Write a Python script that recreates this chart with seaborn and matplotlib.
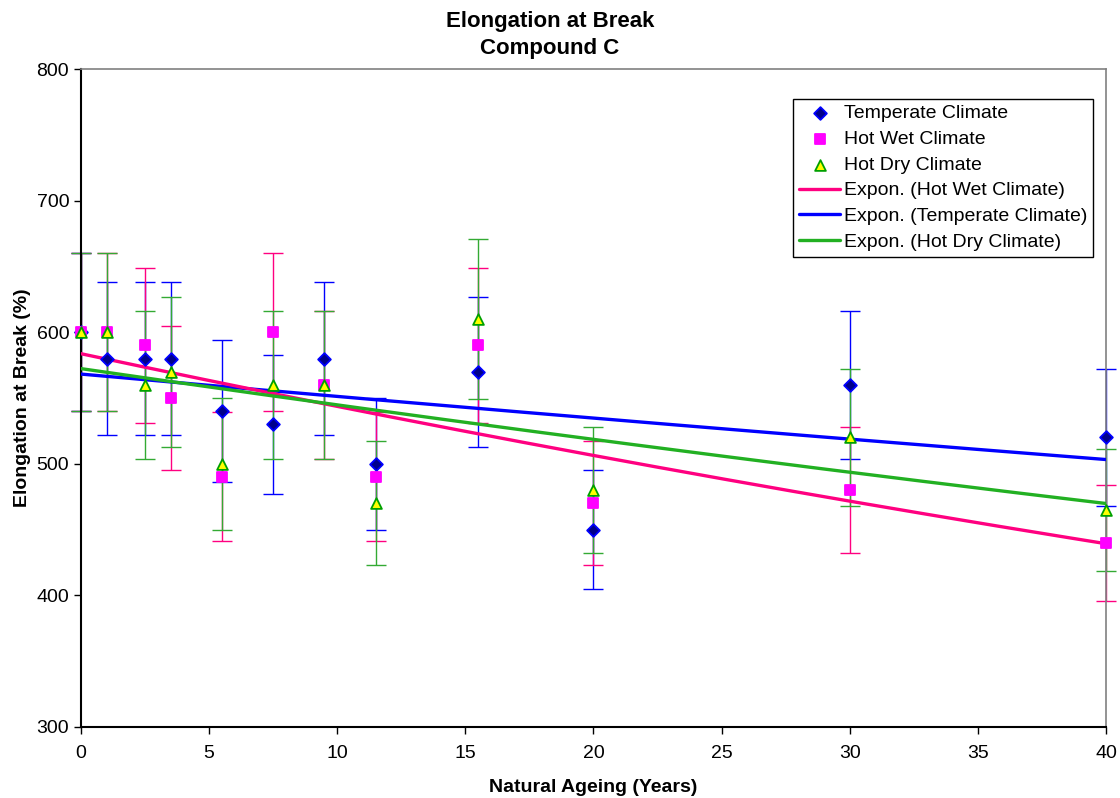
import numpy as np
import pandas as pd
import seaborn as sns
import matplotlib.pyplot as plt

# Natural ageing times (years) and elongation at break (%) per climate
years = [0, 1, 2.5, 3.5, 5.5, 7.5, 9.5, 11.5, 15.5, 20, 30, 40]
temperate = [600, 580, 580, 580, 540, 530, 580, 500, 570, 450, 560, 520]
hot_wet = [600, 600, 590, 550, 490, 600, 560, 490, 590, 470, 480, 440]
hot_dry = [600, 600, 560, 570, 500, 560, 560, 470, 610, 480, 520, 465]
error_frac = 0.10  # error bars are +/-10% of each value

sns.set_theme(style="white")
plt.rcParams['font.family'] = ['Liberation Sans', 'DejaVu Sans']
plt.rcParams['text.color'] = 'black'
plt.rcParams['axes.labelcolor'] = 'black'
plt.rcParams['xtick.color'] = 'black'
plt.rcParams['ytick.color'] = 'black'

fig = plt.figure(figsize=(11.2, 7.98), dpi=100)
ax = fig.add_axes([0.0723, 0.089, 0.9152, 0.8245])

series = [
    # name, values, marker, fill, edge, error colour, trend colour
    ("Temperate Climate", temperate, "D", "#00008B", "#0000FF", "#0000FF", "#0000FF"),
    ("Hot Wet Climate", hot_wet, "s", "#FF00FF", "#FF00FF", "#FF0080", "#FF0080"),
    ("Hot Dry Climate", hot_dry, "^", "#FFFF00", "#00A000", "#33AA33", "#22B022"),
]

x = np.array(years, dtype=float)

# error bars
for name, vals, mk, fc, ec, errc, trc in series:
    v = np.array(vals, dtype=float)
    eb = ax.errorbar(x, v, yerr=v * error_frac, fmt="none", ecolor=errc,
                     elinewidth=1.0, capsize=7, capthick=1.0, zorder=2)
    for art in eb.lines[1] + eb.lines[2]:
        art.set_clip_on(False)

# exponential trend lines (log-linear least squares, like Excel)
xs = np.linspace(0, 40, 200)
for name, vals, mk, fc, ec, errc, trc in series:
    b, ln_a = np.polyfit(x, np.log(vals), 1)
    trend = pd.DataFrame({"x": xs, "y": np.exp(ln_a) * np.exp(b * xs)})
    sns.lineplot(data=trend, x="x", y="y", color=trc, linewidth=2.4,
                 ax=ax, zorder=3, label=f"Expon. ({name})")

# markers
sizes = {"D": 42, "s": 60, "^": 60}
for name, vals, mk, fc, ec, errc, trc in series:
    df = pd.DataFrame({"x": x, "y": vals})
    sns.scatterplot(data=df, x="x", y="y", marker=mk, s=sizes[mk],
                    color=fc, edgecolor=ec, linewidth=1.3, ax=ax,
                    zorder=4, label=name, clip_on=False)

ax.set_xlim(0, 40)
ax.set_ylim(300, 800)
ax.set_xticks(range(0, 41, 5))
ax.set_yticks(range(300, 801, 100))
ax.tick_params(axis="both", labelsize=14, length=5, width=1,
               direction="out", color="black", left=True, bottom=True)
ax.tick_params(axis="x", pad=8)

for side in ["left", "bottom"]:
    ax.spines[side].set_color("black")
    ax.spines[side].set_linewidth(1.5)
for side in ["top", "right"]:
    ax.spines[side].set_color("#808080")
    ax.spines[side].set_linewidth(1.2)

ax.set_xlabel("Natural Ageing (Years)", fontsize=14, fontweight="bold", labelpad=12)
ax.set_ylabel("Elongation at Break (%)", fontsize=14, fontweight="bold", labelpad=4)
fig.text(0.491, 0.956, "Elongation at Break\nCompound C", fontsize=16,
         fontweight="bold", ha="center", va="center", linespacing=1.35)

handles, labels = ax.get_legend_handles_labels()
order = ["Temperate Climate", "Hot Wet Climate", "Hot Dry Climate",
         "Expon. (Hot Wet Climate)", "Expon. (Temperate Climate)",
         "Expon. (Hot Dry Climate)"]
hmap = dict(zip(labels, handles))
leg = ax.legend([hmap[k] for k in order], order, loc="upper right",
                bbox_to_anchor=(0.9875, 0.955), fontsize=14, frameon=True,
                fancybox=False, edgecolor="black", framealpha=1,
                borderpad=0.3, borderaxespad=0.0, handlelength=2.1,
                labelspacing=0.42, handletextpad=0.2)
leg.get_frame().set_linewidth(1.0)

fig.savefig("out.png", dpi=100)
